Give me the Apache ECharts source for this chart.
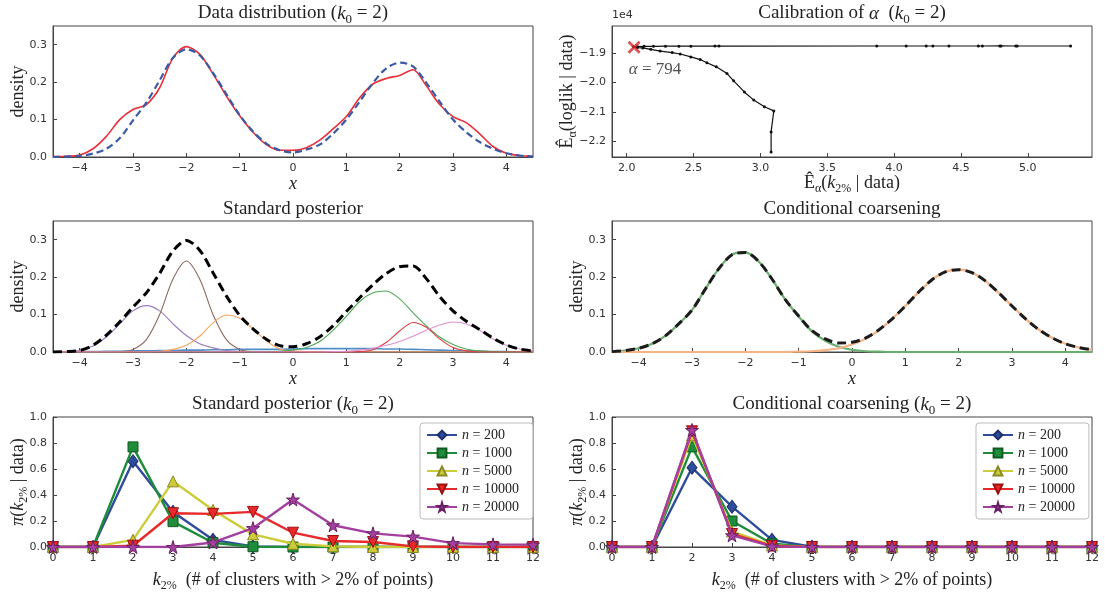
<!DOCTYPE html>
<html>
<head>
<meta charset="utf-8">
<script src="https://cdn.jsdelivr.net/npm/echarts@6.0.0/dist/echarts.min.js"></script>
<style>
html, body { margin: 0; padding: 0; background: #fff; }
#main { width: 1105px; height: 593px; }
</style>
</head>
<body>
<div id="main"></div>
<script>
var xGrid = [-4.5,-4.25,-4,-3.75,-3.5,-3.25,-3,-2.75,-2.5,-2.25,-2,-1.75,-1.5,-1.25,-1,-0.75,-0.5,-0.25,0,0.25,0.5,0.75,1,1.25,1.5,1.75,2,2.25,2.5,2.75,3,3.25,3.5,3.75,4,4.25,4.5];

// data distribution
var trueDensity = [0,0.001,0.003,0.009,0.022,0.05,0.098,0.145,0.205,0.265,0.288,0.272,0.225,0.168,0.112,0.068,0.036,0.018,0.012,0.02,0.033,0.062,0.1,0.148,0.198,0.237,0.252,0.242,0.198,0.148,0.1,0.066,0.04,0.022,0.01,0.004,0.001];
var kdeDensity = [0.001,0.002,0.005,0.022,0.055,0.1,0.127,0.14,0.185,0.265,0.295,0.275,0.222,0.163,0.11,0.066,0.033,0.018,0.018,0.025,0.045,0.075,0.108,0.158,0.195,0.21,0.218,0.233,0.19,0.14,0.108,0.092,0.062,0.028,0.01,0.004,0.002];

// standard posterior
var postTotal = [0,0.001,0.004,0.018,0.045,0.08,0.12,0.158,0.21,0.27,0.298,0.272,0.212,0.15,0.098,0.062,0.034,0.017,0.014,0.022,0.04,0.07,0.108,0.145,0.18,0.21,0.228,0.23,0.196,0.148,0.11,0.082,0.06,0.037,0.019,0.008,0.003];
var compPurple = [0,0.001,0.004,0.016,0.04,0.075,0.11,0.124,0.11,0.075,0.044,0.022,0.011,0.004,0.001,0,0,0,0,0,0,0,0,0,0,0,0,0,0,0,0,0,0,0,0,0,0];
var compBrown = [0,0,0,0,0,0.001,0.007,0.033,0.1,0.195,0.243,0.195,0.1,0.033,0.007,0.001,0,0,0,0,0,0,0,0,0,0,0,0,0,0,0,0,0,0,0,0,0];
var compOrange = [0,0,0,0,0,0,0,0,0.002,0.007,0.018,0.042,0.078,0.099,0.09,0.062,0.03,0.008,0.003,0.001,0,0,0,0,0,0,0,0,0,0,0,0,0,0,0,0,0];
var compGreen = [0,0,0,0,0,0,0,0,0,0,0,0,0,0,0,0,0.001,0.002,0.005,0.012,0.028,0.058,0.095,0.135,0.158,0.163,0.142,0.105,0.07,0.04,0.02,0.008,0.003,0.001,0,0,0];
var compRed = [0,0,0,0,0,0,0,0,0,0,0,0,0,0,0,0,0,0,0,0,0,0,0,0.001,0.006,0.026,0.056,0.079,0.066,0.035,0.012,0.003,0,0,0,0,0];
var compPink = [0,0,0,0,0,0,0,0,0,0,0,0,0,0,0,0,0,0,0,0,0,0.001,0.002,0.005,0.01,0.018,0.028,0.042,0.058,0.072,0.08,0.075,0.058,0.035,0.018,0.008,0.003];
var compBlue = [0,0,0.001,0.001,0.002,0.002,0.003,0.003,0.004,0.004,0.005,0.005,0.006,0.006,0.007,0.007,0.007,0.007,0.008,0.009,0.009,0.009,0.009,0.009,0.009,0.008,0.008,0.007,0.006,0.005,0.004,0.003,0.002,0.001,0.001,0,0];

// conditional coarsening
var coarseTotal = [0.001,0.004,0.01,0.022,0.043,0.075,0.112,0.168,0.222,0.26,0.266,0.242,0.195,0.14,0.096,0.057,0.035,0.024,0.026,0.037,0.059,0.088,0.123,0.16,0.193,0.214,0.22,0.212,0.19,0.158,0.123,0.089,0.06,0.038,0.022,0.012,0.006];
var coarseLeft = [0.001,0.004,0.01,0.022,0.043,0.075,0.112,0.168,0.222,0.26,0.266,0.242,0.195,0.14,0.095,0.055,0.03,0.014,0.006,0.002,0.001,0,0,0,0,0,0,0,0,0,0,0,0,0,0,0,0];
var coarseRight = [0,0,0,0,0,0,0,0,0,0,0,0,0,0,0.001,0.002,0.005,0.01,0.02,0.035,0.058,0.088,0.123,0.16,0.193,0.214,0.22,0.212,0.19,0.158,0.123,0.089,0.06,0.038,0.022,0.012,0.006];

// calibration of alpha: E(k2%) and E(loglik), path order
var calK = [5.32,4.92,4.91,4.80,4.79,4.66,4.63,4.41,4.29,4.24,4.09,3.87,2.69,2.66,2.48,2.39,2.29,2.20,2.13,2.08,2.05,2.08,2.12,2.18,2.25,2.34,2.40,2.48,2.55,2.60,2.67,2.75,2.80,2.88,2.95,3.03,3.10,3.08,3.08];
var calLoglik = [-18745,-18745,-18745,-18742,-18742,-18745,-18745,-18745,-18745,-18745,-18745,-18745,-18748,-18748,-18750,-18750,-18752,-18755,-18758,-18762,-18770,-18800,-18810,-18860,-18920,-18970,-19020,-19120,-19210,-19320,-19460,-19690,-19940,-20320,-20600,-20830,-20970,-21690,-22380];
var calPick = [2.055, -18790];
var calPickAlpha = 794;

// posterior of k2%
var kVals = [0,1,2,3,4,5,6,7,8,9,10,11,12];
var nLabels = ['200','1000','5000','10000','20000'];
var stdN200   = [0,0,0.66,0.27,0.055,0.005,0,0,0,0,0,0,0];
var stdN1000  = [0,0,0.77,0.195,0.033,0.002,0,0,0,0,0,0,0];
var stdN5000  = [0,0,0.055,0.505,0.285,0.097,0.025,0.005,0,0,0,0,0];
var stdN10000 = [0,0,0.01,0.26,0.255,0.27,0.11,0.046,0.038,0.005,0,0,0];
var stdN20000 = [0,0,0,0,0.035,0.145,0.365,0.167,0.105,0.08,0.03,0.02,0.018];
var ccN200   = [0,0,0.61,0.31,0.055,0.002,0,0,0,0,0,0,0];
var ccN1000  = [0,0,0.77,0.2,0.025,0,0,0,0,0,0,0,0];
var ccN5000  = [0,0,0.86,0.12,0.012,0,0,0,0,0,0,0,0];
var ccN10000 = [0,0,0.89,0.1,0.008,0,0,0,0,0,0,0,0];
var ccN20000 = [0,0,0.9,0.09,0.005,0,0,0,0,0,0,0,0];

var SERIF = "'Liberation Serif', 'DejaVu Serif', serif";
var SANS = "'DejaVu Sans', sans-serif";

function rich(size, lh) {
    lh = lh || size + 6;
    return {
        r: { fontFamily: SERIF, fontSize: size, lineHeight: lh, color: '#222' },
        i: { fontFamily: SERIF, fontSize: size, fontStyle: 'italic', lineHeight: lh, color: '#222' },
        s: { fontFamily: SERIF, fontSize: Math.round(size * 0.68), lineHeight: Math.round(size * 0.68) + 1, verticalAlign: 'bottom', color: '#222' }
    };
}
function pairs(xs, ys) {
    return xs.map(function (x, i) { return [x, ys[i]]; });
}
function minus(s) { return String(s).replace('-', '\u2212'); }
function fmtInt(v) { return minus(v); }
function fmt1(v) { return minus(v.toFixed(1)); }

var intTicks = [-4, -3, -2, -1, 0, 1, 2, 3, 4];
var densTicks = [0, 0.1, 0.2, 0.3];

function axis(gi, o) {
    var a = {
        type: 'value', gridIndex: gi, min: o.min, max: o.max,
        axisLine: { show: true, onZero: false, lineStyle: { color: '#444', width: 1 } },
        axisTick: { show: true, inside: true, length: 4, lineStyle: { color: '#444' } },
        axisLabel: { fontFamily: SANS, fontSize: 11, color: '#333', margin: 6, formatter: o.fmt },
        splitLine: { show: false },
        name: o.name || '', nameLocation: 'middle', nameGap: o.gap || 20, nameMoveOverlap: false,
        nameTextStyle: { fontFamily: SERIF, fontSize: 18, color: '#222', lineHeight: 24, rich: rich(18) }
    };
    if (o.ticks) {
        a.axisLabel.customValues = o.ticks;
        a.axisTick.customValues = o.ticks;
    }
    if (o.interval) a.interval = o.interval;
    return a;
}

var grids = [
    { left: 53, top: 26, width: 480, height: 131 },
    { left: 612, top: 26, width: 480, height: 131 },
    { left: 53, top: 221, width: 480, height: 131 },
    { left: 612, top: 221, width: 480, height: 131 },
    { left: 53, top: 417, width: 480, height: 131 },
    { left: 612, top: 417, width: 480, height: 131 }
];
grids.forEach(function (g) {
    g.show = true; g.borderColor = '#444'; g.borderWidth = 1; g.backgroundColor = '#fff';
});

var kName = '{i|k}{s|2%}{r|  (# of clusters with > 2% of points)}';
var piName = '{i|\u03c0}{r|(}{i|k}{s|2%}{r| | data)}';
var xAxes = [
    axis(0, { min: -4.5, max: 4.5, ticks: intTicks, fmt: fmtInt, name: '{i|x}', gap: 15 }),
    axis(1, { min: 1.89, max: 5.48, ticks: [2, 2.5, 3, 3.5, 4, 4.5, 5], fmt: fmt1, name: '{r|\u00ca}{s|\u03b1}{r|(}{i|k}{s|2%}{r| | data)}', gap: 14 }),
    axis(2, { min: -4.5, max: 4.5, ticks: intTicks, fmt: fmtInt, name: '{i|x}', gap: 15 }),
    axis(3, { min: -4.5, max: 4.5, ticks: intTicks, fmt: fmtInt, name: '{i|x}', gap: 15 }),
    axis(4, { min: 0, max: 12, interval: 1, fmt: fmtInt, name: kName, gap: 21 }),
    axis(5, { min: 0, max: 12, interval: 1, fmt: fmtInt, name: kName, gap: 21 })
];
var yAxes = [
    axis(0, { min: 0, max: 0.35, ticks: densTicks, fmt: fmt1, name: '{r|density}', gap: 23 }),
    axis(1, { min: -22550, max: -18060, ticks: [-22000, -21000, -20000, -19000], fmt: function (v) { return fmt1(v / 1e4); }, name: '{r|\u00ca}{s|\u03b1}{r|(loglik | data)}', gap: 33 }),
    axis(2, { min: 0, max: 0.35, ticks: densTicks, fmt: fmt1, name: '{r|density}', gap: 23 }),
    axis(3, { min: 0, max: 0.35, ticks: densTicks, fmt: fmt1, name: '{r|density}', gap: 23 }),
    axis(4, { min: 0, max: 1, interval: 0.2, fmt: fmt1, name: piName, gap: 23 }),
    axis(5, { min: 0, max: 1, interval: 0.2, fmt: fmt1, name: piName, gap: 23 })
];

function title(text, cx, top) {
    return {
        text: text, left: cx, top: top, textAlign: 'center', padding: 0,
        textStyle: { fontFamily: SERIF, fontSize: 19, fontWeight: 'normal', color: '#222', lineHeight: 25, rich: rich(19) }
    };
}
var titles = [
    title('Data distribution ({i|k}{s|0} = 2)', 293, 1),
    title('Calibration of {i|\u03b1}  ({i|k}{s|0} = 2)', 852, 1),
    title('Standard posterior', 293, 197),
    title('Conditional coarsening', 852, 197),
    title('Standard posterior ({i|k}{s|0} = 2)', 293, 392),
    title('Conditional coarsening ({i|k}{s|0} = 2)', 852, 392)
];

function curve(name, gi, ys, color, width, dash, z) {
    return {
        name: name, type: 'line', xAxisIndex: gi, yAxisIndex: gi,
        data: pairs(xGrid, ys), showSymbol: false, smooth: 0.3, z: z || 2,
        lineStyle: { color: color, width: width, type: dash || 'solid' },
        silent: true
    };
}

var STAR = 'path://M50,0L61,35L98,35L68,57L79,91L50,70L21,91L32,57L2,35L39,35Z';
var TRI_DOWN = 'path://M0,0L10,0L5,9Z';
var nStyles = [
    { color: '#2f4b9c', edge: '#1c2f6a', symbol: 'diamond', size: [10, 13] },
    { color: '#1e8c3a', edge: '#0e5a20', symbol: 'rect', size: 10 },
    { color: '#cccc3a', edge: '#8a8820', symbol: 'triangle', size: 11 },
    { color: '#e8292b', edge: '#9c1010', symbol: TRI_DOWN, size: 11 },
    { color: '#a3409f', edge: '#6a2066', symbol: STAR, size: 13 }
];
var nNames = nLabels.map(function (n) { return 'n = ' + n; });

function kSeries(gi, lists) {
    return lists.map(function (ys, j) {
        var st = nStyles[j];
        return {
            name: nNames[j], type: 'line', xAxisIndex: gi, yAxisIndex: gi,
            data: pairs(kVals, ys), symbol: st.symbol, symbolSize: st.size, showAllSymbol: true,
            lineStyle: { color: st.color, width: 2.4 },
            itemStyle: { color: st.color, borderColor: st.edge, borderWidth: 1 },
            z: 3 + j
        };
    });
}

var series = [
    curve('kde', 0, kdeDensity, '#e8303a', 1.6, 'solid', 2),
    curve('true density', 0, trueDensity, '#3b5aa6', 2.2, [7, 4], 3),

    {
        name: 'calibration', type: 'line', xAxisIndex: 1, yAxisIndex: 1,
        data: pairs(calK, calLoglik), symbol: 'circle', symbolSize: 3, showAllSymbol: true,
        lineStyle: { color: '#111', width: 1.2 }, itemStyle: { color: '#111' }, z: 2
    },
    {
        name: 'chosen alpha', type: 'scatter', xAxisIndex: 1, yAxisIndex: 1,
        data: [calPick], symbol: 'path://M0,1.5L1.5,0L5,3.5L8.5,0L10,1.5L6.5,5L10,8.5L8.5,10L5,6.5L1.5,10L0,8.5L3.5,5Z',
        symbolSize: 13, itemStyle: { color: '#d62728' }, z: 5,
        label: {
            show: true, position: 'bottom', offset: [21, -1], formatter: '{i|\u03b1}{r| = ' + calPickAlpha + '}',
            rich: rich(17)
        }
    },

    curve('c blue', 2, compBlue, '#4f8fc8', 1.6),
    curve('c purple', 2, compPurple, '#9a7cc4', 1.1),
    curve('c brown', 2, compBrown, '#8e6a60', 1.1),
    curve('c orange', 2, compOrange, '#f7a560', 1.1),
    curve('c green', 2, compGreen, '#4eaa55', 1.1),
    curve('c red', 2, compRed, '#dc3c40', 1.1),
    curve('c pink', 2, compPink, '#e090d0', 1.1),
    curve('posterior', 2, postTotal, '#000', 3, [9, 5], 4),

    curve('cc left', 3, coarseLeft, '#6aae6e', 2.2),
    curve('cc right', 3, coarseRight, '#f6b283', 2.2),
    curve('cc total', 3, coarseTotal, '#1c1c1c', 3, [9, 5], 4)
].concat(
    kSeries(4, [stdN200, stdN1000, stdN5000, stdN10000, stdN20000]),
    kSeries(5, [ccN200, ccN1000, ccN5000, ccN10000, ccN20000])
);

function legendAt(left) {
    return {
        data: nNames, left: left, top: 423, orient: 'vertical', selectedMode: false,
        itemWidth: 30, itemHeight: 11, itemGap: 4, padding: [5, 14, 5, 6],
        backgroundColor: '#fff', borderColor: '#bbb', borderWidth: 1, borderRadius: 3,
        formatter: function (name) { return '{i|n}{r| = ' + name.split('= ')[1] + '}'; },
        textStyle: { fontFamily: SERIF, fontSize: 14, color: '#222', lineHeight: 14, rich: rich(14, 14) }
    };
}

var chart = echarts.init(document.getElementById('main'), null, { renderer: 'canvas' });
chart.setOption({
    animation: false,
    backgroundColor: '#fff',
    title: titles,
    grid: grids,
    xAxis: xAxes,
    yAxis: yAxes,
    legend: [legendAt(420), legendAt(976)],
    graphic: [{
        type: 'text', left: 612, top: 10,
        style: { text: '1e4', font: '11px ' + SANS, fill: '#333' }
    }],
    series: series
});
</script>
</body>
</html>
